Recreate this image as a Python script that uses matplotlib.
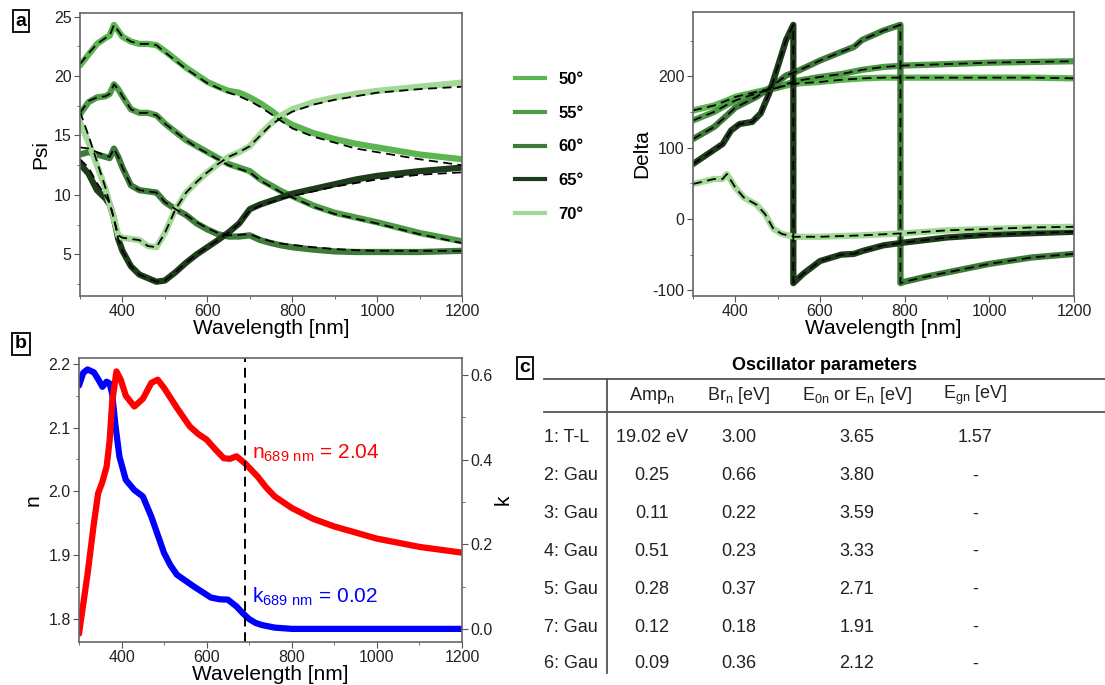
import matplotlib
matplotlib.use("Agg")
import matplotlib.pyplot as plt
from matplotlib.lines import Line2D
from matplotlib.ticker import MultipleLocator

plt.rcParams['font.family'] = ['Liberation Sans', 'DejaVu Sans']
plt.rcParams['mathtext.default'] = 'regular'
plt.rcParams['axes.unicode_minus'] = False

# ---- panel a: Psi ----
psi_wl = [300, 320, 340, 360, 370, 380, 390, 400, 420, 440, 460, 480, 500, 525, 550,
          575, 600, 625, 650, 675, 700, 725, 750, 775, 800, 850, 900, 950, 1000, 1100, 1200]
psi_50 = [20.9, 21.8, 22.7, 23.2, 23.4, 24.3, 23.8, 23.3, 22.9, 22.7, 22.7, 22.6, 22.1, 21.4, 20.7,
          20.1, 19.5, 19.1, 18.75, 18.6, 18.2, 17.7, 17.1, 16.4, 15.9, 15.2, 14.7, 14.3, 14.0, 13.4, 13.0]
psi_55 = [16.8, 17.8, 18.2, 18.3, 18.5, 19.3, 18.9, 18.3, 17.2, 16.9, 16.9, 16.7, 16.0, 15.3, 14.6,
          14.1, 13.6, 13.1, 12.6, 12.3, 12.0, 11.3, 10.8, 10.3, 9.9, 9.1, 8.5, 8.1, 7.7, 6.8, 6.1]
psi_60 = [13.4, 13.6, 13.4, 13.2, 13.1, 13.9, 13.2, 12.3, 10.8, 10.4, 10.3, 10.2, 9.4, 8.8, 8.3,
          7.6, 7.1, 6.7, 6.5, 6.5, 6.6, 6.2, 5.95, 5.75, 5.6, 5.4, 5.25, 5.2, 5.2, 5.2, 5.3]
psi_65 = [12.6, 11.8, 10.4, 9.7, 9.2, 8.0, 6.3, 5.3, 4.0, 3.3, 3.0, 2.7, 2.8, 3.5, 4.3,
          5.0, 5.6, 6.2, 6.85, 7.6, 8.8, 9.2, 9.5, 9.8, 10.1, 10.5, 10.9, 11.3, 11.6, 12.0, 12.3]
psi_70 = [16.1, 14.4, 12.5, 10.5, 9.2, 8.0, 6.6, 6.4, 6.3, 6.2, 5.7, 5.6, 6.8, 8.8, 10.2,
          11.1, 11.9, 12.6, 13.2, 13.6, 14.1, 15.1, 16.0, 16.7, 17.2, 17.8, 18.2, 18.5, 18.75, 19.1, 19.45]

# model fits (dashed)
fit_50 = [21.0, 21.9, 22.7, 23.2, 23.4, 24.3, 23.8, 23.3, 22.9, 22.7, 22.7, 22.6, 22.0, 21.3, 20.6,
          20.0, 19.4, 19.0, 18.6, 18.3, 17.9, 17.4, 16.8, 16.2, 15.6, 14.9, 14.4, 13.9, 13.6, 13.0, 12.5]
fit_55 = [16.9, 17.9, 18.2, 18.3, 18.5, 19.3, 18.9, 18.3, 17.2, 16.9, 16.9, 16.7, 16.0, 15.3, 14.6,
          14.0, 13.5, 13.0, 12.5, 12.2, 11.9, 11.2, 10.7, 10.2, 9.8, 9.0, 8.4, 8.0, 7.6, 6.7, 5.95]
fit_60 = [14.0, 13.9, 13.6, 13.3, 13.2, 13.9, 13.2, 12.3, 10.8, 10.4, 10.3, 10.2, 9.4, 8.8, 8.3,
          7.7, 7.2, 6.8, 6.6, 6.65, 6.7, 6.35, 6.1, 5.9, 5.8, 5.6, 5.45, 5.35, 5.3, 5.3, 5.3]
fit_65 = [13.0, 12.3, 11.0, 9.9, 9.3, 8.0, 6.3, 5.3, 4.0, 3.3, 3.0, 2.7, 2.8, 3.5, 4.3,
          5.0, 5.6, 6.2, 6.85, 7.6, 8.7, 9.1, 9.4, 9.7, 9.9, 10.3, 10.7, 11.0, 11.3, 11.7, 11.9]
fit_70 = [17.0, 15.0, 12.8, 10.6, 9.3, 8.0, 6.6, 6.4, 6.3, 6.2, 5.7, 5.6, 6.8, 8.8, 10.2,
          11.1, 11.9, 12.6, 13.2, 13.6, 14.1, 15.0, 15.9, 16.5, 17.0, 17.6, 18.0, 18.3, 18.6, 18.9, 19.1]

# ---- panel a: Delta ----
dl_wl = [300, 350, 380, 400, 420, 450, 480, 500, 520, 550, 600, 650, 700,
         750, 800, 900, 1000, 1100, 1200]
dl_50 = [152, 159, 166, 171, 174, 178, 182, 184, 187, 190, 192, 195, 197,
         198, 198, 198, 198, 198, 197]
dl_55 = [138, 150, 160, 166, 170, 176, 181, 184, 189, 194, 199, 203, 209,
         213, 215, 217, 219, 220, 221]
dl_60_wl = [300, 350, 380, 400, 450, 480, 520, 550, 600, 650, 680, 700, 750, 790,
            790, 800, 850, 900, 950, 1000, 1100, 1200]
dl_60 = [112, 129, 145, 156, 171, 183, 201, 208, 222, 234, 241, 251, 264, 272,
         -90, -88, -81, -75, -69, -63, -54, -49]
dl_65_wl = [300, 330, 360, 370, 390, 410, 440, 460, 480, 500, 520, 537,
            537, 560, 600, 650, 680, 700, 750, 800, 900, 1000, 1100, 1200]
dl_65 = [77, 89, 101, 105, 124, 133, 136, 148, 176, 213, 251, 272,
         -90, -77, -59, -50, -49, -45, -37, -33, -26, -22, -20, -18]
dl_70_wl = [300, 350, 370, 380, 400, 420, 450, 470, 490, 510, 540, 600,
            700, 800, 900, 1000, 1100, 1200]
dl_70 = [49, 56, 56, 63, 44, 30, 20, 7, -14, -21, -25, -25,
         -23, -20, -16, -14, -12, -11]

angles = ["50°", "55°", "60°", "65°", "70°"]
colors = ["#5db551", "#4e9a47", "#3e7a39", "#1e3b1c", "#a3d997"]

# ---- panel b: n, k ----
n_wl = [300, 320, 335, 345, 355, 365, 372, 378, 388, 398, 410, 430, 450, 470, 485,
        500, 530, 560, 580, 600, 620, 640, 655, 670, 690, 720, 740, 760, 800, 850,
        900, 1000, 1100, 1200]
n_val = [1.777, 1.87, 1.95, 1.997, 2.015, 2.039, 2.08, 2.14, 2.188, 2.175, 2.150,
         2.133, 2.145, 2.170, 2.175, 2.162, 2.131, 2.102, 2.090, 2.081, 2.066, 2.052,
         2.051, 2.055, 2.044, 2.023, 2.006, 1.992, 1.974, 1.957, 1.945, 1.926, 1.913, 1.904]
k_wl = [300, 310, 320, 335, 345, 355, 365, 372, 378, 385, 395, 410, 430, 450, 470,
        500, 515, 530, 570, 610, 630, 650, 670, 685, 700, 715, 730, 760, 800, 1000, 1200]
k_val = [0.575, 0.605, 0.613, 0.606, 0.590, 0.572, 0.584, 0.580, 0.555, 0.486, 0.407,
         0.352, 0.328, 0.313, 0.265, 0.179, 0.150, 0.128, 0.100, 0.074, 0.070, 0.069,
         0.053, 0.037, 0.023, 0.014, 0.009, 0.003, 0.0, 0.0, 0.0]
wl_mark = 689

# ---- panel c: table ----
osc_names = ["1: T-L", "2: Gau", "3: Gau", "4: Gau", "5: Gau", "7: Gau", "6: Gau"]
amp = ["19.02 eV", "0.25", "0.11", "0.51", "0.28", "0.12", "0.09"]
br = ["3.00", "0.66", "0.22", "0.23", "0.37", "0.18", "0.36"]
e0 = ["3.65", "3.80", "3.59", "3.33", "2.71", "1.91", "2.12"]
egn = ["1.57", "-", "-", "-", "-", "-", "-"]
headers = ["Amp$_{n}$", "Br$_{n}$ [eV]", "E$_{0n}$ or E$_{n}$ [eV]", "E$_{gn}$ [eV]"]

W, H = 1105, 685
fig = plt.figure(figsize=(W / 100, H / 100), dpi=100)


def fx(x):
    return x / W


def fy(y):
    return 1 - y / H


def box(l, t, r, b):
    return [fx(l), fy(b), fx(r) - fx(l), fy(t) - fy(b)]


def style(ax):
    for s in ax.spines.values():
        s.set_color("#666666")
        s.set_linewidth(1.2)
    ax.tick_params(which="both", direction="out", color="#555555", labelcolor="#222222",
                   labelsize=11.5, top=False, right=False, pad=2)
    ax.tick_params(which="major", length=4)
    ax.tick_params(which="minor", length=2.5)
    ax.xaxis.set_major_locator(MultipleLocator(200))
    ax.xaxis.set_minor_locator(MultipleLocator(100))
    ax.set_xlim(300, 1200)
    ax.set_xlabel("Wavelength [nm]", fontsize=15, labelpad=0)


# Psi
ax1 = fig.add_axes(box(80, 13, 462, 296))
style(ax1)
psi_data = [psi_50, psi_55, psi_60, psi_65, psi_70]
psi_fit = [fit_50, fit_55, fit_60, fit_65, fit_70]
for d, c in zip(psi_data, colors):
    ax1.plot(psi_wl, d, color=c, lw=4.5, solid_capstyle="round", solid_joinstyle="round")
for m in psi_fit:
    ax1.plot(psi_wl, m, color="black", lw=1.3, ls=(0, (5, 3)))
ax1.set_ylim(1.5, 25.3)
ax1.yaxis.set_major_locator(MultipleLocator(5))
ax1.yaxis.set_minor_locator(MultipleLocator(2.5))
ax1.set_ylabel("Psi", fontsize=15, labelpad=3)

# Delta
ax2 = fig.add_axes(box(693, 12, 1074, 296))
style(ax2)
dl_x = [dl_wl, dl_wl, dl_60_wl, dl_65_wl, dl_70_wl]
dl_y = [dl_50, dl_55, dl_60, dl_65, dl_70]
for x, y, c in zip(dl_x, dl_y, colors):
    ax2.plot(x, y, color=c, lw=4.5, solid_capstyle="round", solid_joinstyle="round")
for x, y in zip(dl_x, dl_y):
    ax2.plot(x, y, color="black", lw=1.3, ls=(0, (5, 3)))
ax2.set_ylim(-108, 290)
ax2.yaxis.set_major_locator(MultipleLocator(100))
ax2.yaxis.set_minor_locator(MultipleLocator(50))
ax2.set_ylabel("Delta", fontsize=15, labelpad=1)

# legend
handles = [Line2D([], [], color=c, lw=3) for c in colors]
fig.legend(handles, angles, loc="upper left", bbox_to_anchor=(fx(515), fy(72)),
           frameon=False, borderpad=0, borderaxespad=0, handlelength=1.8,
           handletextpad=0.8, labelspacing=1.12,
           prop={"weight": "bold", "size": 12})

# panel b
ax3 = fig.add_axes(box(79, 358, 462, 642))
style(ax3)
ax3.set_ylim(1.764, 2.209)
ax3.yaxis.set_major_locator(MultipleLocator(0.1))
ax3.yaxis.set_minor_locator(MultipleLocator(0.05))
ax3.set_ylabel("n", fontsize=15, labelpad=4)
ax4 = ax3.twinx()
for s in ax4.spines.values():
    s.set_visible(False)
ax4.tick_params(which="both", direction="out", color="#555555", labelcolor="#222222",
                labelsize=11.5, pad=2)
ax4.tick_params(which="major", length=4)
ax4.tick_params(which="minor", length=2.5)
ax4.set_ylim(-0.031, 0.64)
ax4.yaxis.set_major_locator(MultipleLocator(0.2))
ax4.yaxis.set_minor_locator(MultipleLocator(0.1))
ax4.set_ylabel("k", fontsize=15, labelpad=1)
ax4.plot(k_wl, k_val, color="#0000ff", lw=4.5, solid_capstyle="round", solid_joinstyle="round")
ax3.plot(n_wl, n_val, color="#ff0000", lw=4.5, solid_capstyle="round", solid_joinstyle="round")
ax3.set_zorder(ax4.get_zorder() + 1)
ax3.patch.set_visible(False)
ax3.axvline(wl_mark, color="black", lw=1.4, ls=(0, (5, 3)))
ax3.text(706, 2.06, "n$_{689\\ nm}$ = 2.04", color="#ff0000", fontsize=15, va="center")
ax4.text(706, 0.076, "k$_{689\\ nm}$ = 0.02", color="#0000ff", fontsize=15, va="center")

# panel labels
for lab, (x, y) in zip(["a", "b", "c"], [(21, 21), (21, 344), (525, 368)]):
    fig.text(fx(x), fy(y), lab, fontsize=14, fontweight="bold", ha="center", va="center",
             bbox=dict(boxstyle="square,pad=0.15", fc="white", ec="black", lw=1.3))

# table
fig.text(fx(825), fy(366), "Oscillator parameters", fontsize=13, fontweight="bold",
         ha="center", va="center")
for y in [379, 412]:
    fig.add_artist(Line2D([fx(544), fx(1105)], [fy(y), fy(y)], color="#555555", lw=1.3,
                          transform=fig.transFigure))
fig.add_artist(Line2D([fx(607), fx(607)], [fy(379), fy(673)], color="#555555", lw=1.3,
                      transform=fig.transFigure))
col_x = [652, 739, 857, 975]
for cx, h in zip(col_x, headers):
    fig.text(fx(cx), fy(395), h, fontsize=13, ha="center", va="center", color="#222222")
row_y = [438, 476, 514, 551, 589, 627, 664]
for i, ry in enumerate(row_y):
    fig.text(fx(544), fy(ry), osc_names[i], fontsize=13, ha="left", va="center", color="#222222")
    for cx, col in zip(col_x, [amp, br, e0, egn]):
        fig.text(fx(cx), fy(ry), col[i], fontsize=13, ha="center", va="center", color="#222222")

fig.savefig("out.png", dpi=100)
